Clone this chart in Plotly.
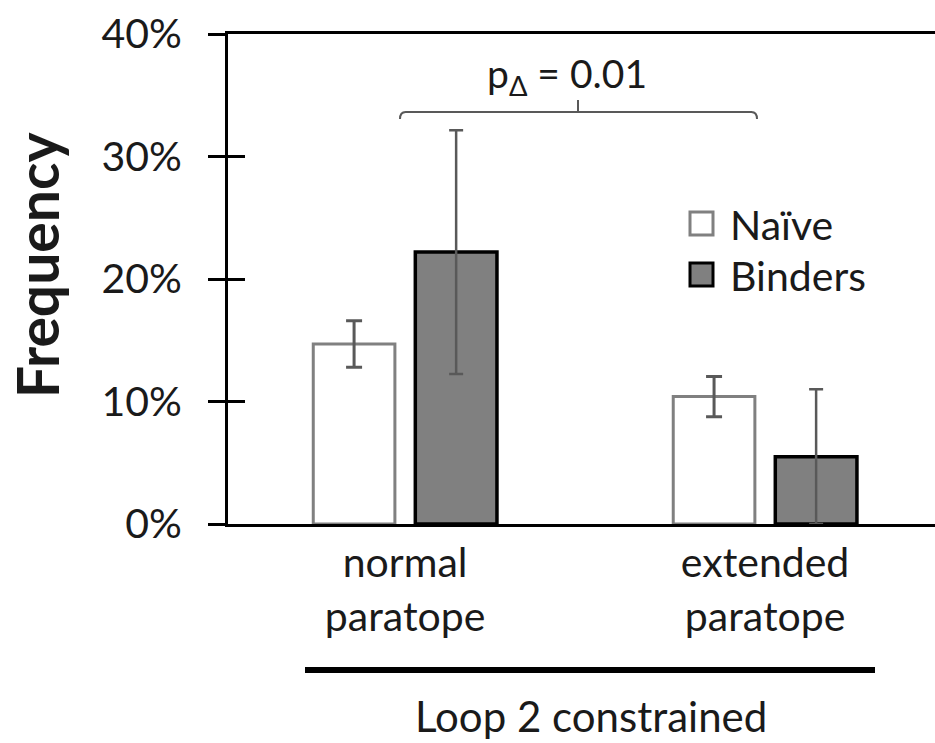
import plotly.graph_objects as go

categories = ["normal paratope", "extended paratope"]
tick_text = ["normal<br>paratope", "extended<br>paratope"]
naive_vals = [14.7, 10.4]
naive_err = [1.9, 1.65]
binder_vals = [22.2, 5.5]
binder_err = [9.95, 5.5]
y_ticks = [0, 10, 20, 30, 40]
y_tick_labels = ["0%", "10%", "20%", "30%", "40%"]

FONT = "Lato"
W, H = 935, 743
ML, MR, MT, MB = 228, 0, 34, 219
PW, PH = W - ML - MR, H - MT - MB

def px(x):
    return (x - ML) / PW

def py(y):
    return (H - MB - y) / PH

fig = go.Figure()
fig.add_trace(go.Bar(
    x=categories, y=naive_vals, name="Naïve",
    marker=dict(color="white", line=dict(color="#808080", width=3)),
    error_y=dict(type="data", array=naive_err, color="#595959", thickness=3, width=8),
))
fig.add_trace(go.Bar(
    x=categories, y=binder_vals, name="Binders",
    marker=dict(color="#808080", line=dict(color="black", width=3.5)),
    error_y=dict(type="data", array=binder_err, color="#595959", thickness=2.5, width=7),
))

fig.update_layout(
    width=W, height=H,
    margin=dict(l=ML, r=MR, t=MT, b=MB, pad=0),
    paper_bgcolor="white", plot_bgcolor="white",
    barmode="group", bargap=0.433, bargroupgap=0.2,
    showlegend=False,
    font=dict(family=FONT, color="#1a1a1a", size=41),
    xaxis=dict(
        range=[-0.492, 1.472], tickvals=categories, ticktext=tick_text,
        showline=True, linecolor="black", linewidth=3, mirror=True,
        ticks="", showgrid=False, zeroline=False,
        tickfont=dict(size=41, family=FONT, color="#1a1a1a"),
        ticklabelstandoff=1,
    ),
    yaxis=dict(
        range=[0, 40], tickvals=y_ticks, ticktext=y_tick_labels,
        showline=True, linecolor="black", linewidth=3,
        ticks="outside", ticklen=17, tickwidth=3, tickcolor="black",
        showgrid=False, zeroline=False,
        tickfont=dict(size=41, family=FONT, color="#1a1a1a"),
        ticklabelstandoff=18,
    ),
    yaxis2=dict(
        overlaying="y", anchor="x", side="left", range=[0, 40],
        tickvals=y_ticks, ticks="inside", ticklen=17, tickwidth=3,
        tickcolor="black", showticklabels=False, showline=False,
        showgrid=False, zeroline=False,
    ),
)

# invisible trace so the overlay axis renders its crossing ticks
fig.add_trace(go.Scatter(x=categories, y=[None, None], yaxis="y2",
                         showlegend=False, hoverinfo="skip"))

shapes = []
# significance bracket
bx0, bx1, bxm = px(400), px(757), px(578)
by, byend, bytop = py(112), py(119), py(100)
shapes.append(dict(type="path", xref="paper", yref="paper",
                   path=f"M {bx0},{byend} Q {bx0},{by} {bx0+0.008},{by} L {bx1-0.008},{by} Q {bx1},{by} {bx1},{byend} "
                        f"M {bxm},{by} L {bxm},{bytop}",
                   line=dict(color="#595959", width=2)))
# legend squares
shapes.append(dict(type="rect", xref="paper", yref="paper",
                   x0=px(690), x1=px(713), y0=py(235), y1=py(212),
                   fillcolor="white", line=dict(color="#808080", width=3)))
shapes.append(dict(type="rect", xref="paper", yref="paper",
                   x0=px(690), x1=px(713), y0=py(286), y1=py(263),
                   fillcolor="#808080", line=dict(color="black", width=3)))
# group line
shapes.append(dict(type="line", xref="paper", yref="paper",
                   x0=px(305), x1=px(875), y0=py(670), y1=py(670),
                   line=dict(color="black", width=6)))
fig.update_layout(shapes=shapes)

ann = [
    dict(text="p<sub>Δ</sub> = 0.01", x=px(567), y=py(76), xref="paper", yref="paper",
         showarrow=False, xanchor="center", yanchor="middle",
         font=dict(size=39, family=FONT, color="#1a1a1a")),
    dict(text="Naïve", x=px(728), y=py(224), xref="paper", yref="paper",
         showarrow=False, xanchor="left", yanchor="middle",
         font=dict(size=41, family=FONT, color="#1a1a1a")),
    dict(text="Binders", x=px(728), y=py(275), xref="paper", yref="paper",
         showarrow=False, xanchor="left", yanchor="middle",
         font=dict(size=41, family=FONT, color="#1a1a1a")),
    dict(text="Loop 2 constrained", x=px(591), y=py(716), xref="paper", yref="paper",
         showarrow=False, xanchor="center", yanchor="middle",
         font=dict(size=42, family=FONT, color="#1a1a1a")),
    dict(text="<b>Frequency</b>", x=px(37), y=py(265), xref="paper", yref="paper",
         showarrow=False, xanchor="center", yanchor="middle", textangle=-90,
         font=dict(size=57, family=FONT, color="#1a1a1a")),
]
fig.update_layout(annotations=ann)

fig.write_html("out.html")
